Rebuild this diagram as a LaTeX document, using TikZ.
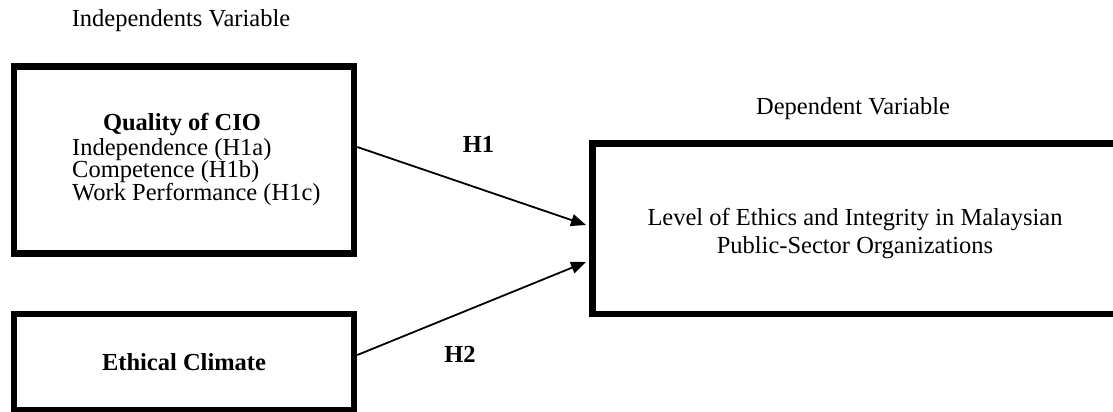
\documentclass[tikz,border=0pt]{standalone}
\usepackage{fontspec}
\setmainfont{Liberation Serif}
\usetikzlibrary{arrows.meta}
\tikzset{
  every node/.style={font=\fontsize{24.5pt}{28pt}\selectfont, inner sep=0pt},
  varbox/.style={draw, line width=6.5pt},
  link/.style={line width=1.8pt, -{Triangle[length=15pt,width=12pt]}},
}

\begin{document}
\begin{tikzpicture}[x=1pt,y=-1pt]

            \clip (0,0) rectangle (1113,412);
            % variable boxes
            \node[varbox, minimum width=340pt, minimum height=187pt] (cio) at (184,160) {};
            \node[varbox, minimum width=340pt, minimum height=96pt] (clim) at (184,362) {\bfseries Ethical Climate};
            \node[varbox, minimum width=525pt, minimum height=170.5pt] (lvl) at (855,228.75) {};
            \node[align=center] (lvltxt) at (855,234) {Level of Ethics and Integrity in Malaysian\\Public-Sector Organizations};
            % text of the first box
            \node[anchor=base] (ciotitle) at (182,130) {\bfseries Quality of CIO};
            \foreach \name/\y/\txt in {indep/155/{Independence (H1a)},
                                       comp/177.5/{Competence (H1b)},
                                       perf/200/{Work Performance (H1c)}} {
                \node[anchor=base west] (\name) at (72,\y) {\txt};
            }
            % headings
            \node[anchor=base] (indhead) at (181,27) {Independents Variable};
            \node[anchor=base] (dephead) at (853,114) {Dependent Variable};
            % hypotheses
            \draw[link] ([yshift=13pt]cio.east) -- ([xshift=-3.25pt,yshift=3.75pt]lvl.west);
            \draw[link] ([yshift=7pt]clim.east) -- ([xshift=-3.25pt,yshift=-33.25pt]lvl.west);
            \node[anchor=base] (hone) at (478.5,152) {\bfseries H1};
            \node[anchor=base] (htwo) at (460,362) {\bfseries H2};
        \end{tikzpicture}
\end{document}
